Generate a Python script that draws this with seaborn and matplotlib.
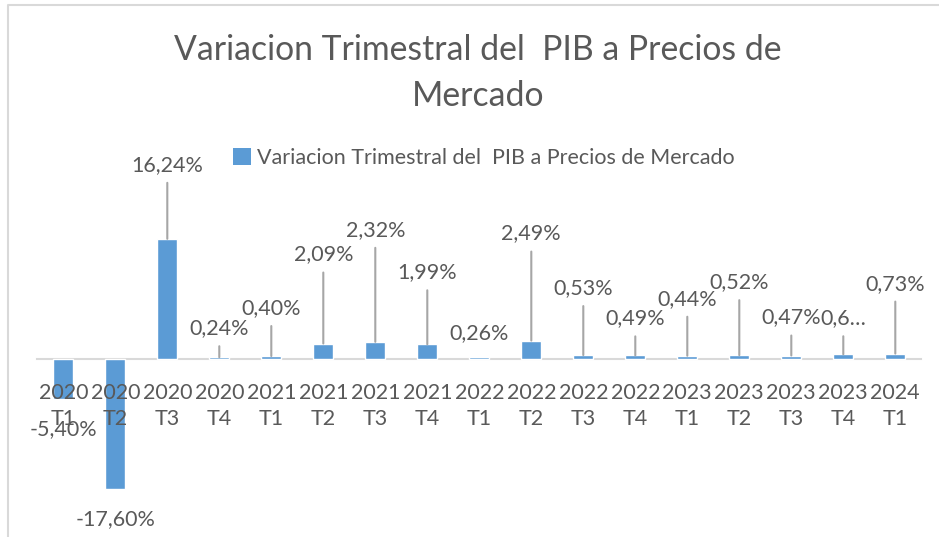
import matplotlib
matplotlib.use('Agg')
import matplotlib.pyplot as plt
from matplotlib.patches import Patch
from matplotlib.lines import Line2D
import seaborn as sns

# Quarters and quarterly GDP change (%)
quarters = ['2020\nT1', '2020\nT2', '2020\nT3', '2020\nT4',
            '2021\nT1', '2021\nT2', '2021\nT3', '2021\nT4',
            '2022\nT1', '2022\nT2', '2022\nT3', '2022\nT4',
            '2023\nT1', '2023\nT2', '2023\nT3', '2023\nT4',
            '2024\nT1']
variation = [-5.40, -17.60, 16.24, 0.24, 0.40, 2.09, 2.32, 1.99,
             0.26, 2.49, 0.53, 0.49, 0.44, 0.52, 0.47, 0.64, 0.73]
labels = ['-5,40%', '-17,60%', '16,24%', '0,24%', '0,40%', '2,09%', '2,32%',
          '1,99%', '0,26%', '2,49%', '0,53%', '0,49%', '0,44%', '0,52%',
          '0,47%', '0,6…', '0,73%']
series_name = 'Variacion Trimestral del  PIB a Precios de Mercado'
title = 'Variacion Trimestral del  PIB a Precios de\nMercado'

# Distance (pixels) of each data label from the end of its bar, as placed in the original
label_gap = [30, 30, 74, 29, 48, 89, 112, 72, 24, 107, 67, 37, 57, 73, 38, 36, 70]

bar_color = '#5B9BD5'
text_color = '#595959'
font = 'Lato'

sns.set_style('white')
plt.rcParams['font.family'] = [font, 'DejaVu Sans']

fig = plt.figure(figsize=(9.39, 5.37), dpi=100)
ax = fig.add_axes([37.3 / 939, 1 - 507 / 537, 884 / 939, 296 / 537])

sns.barplot(x=quarters, y=variation, color=bar_color, saturation=1,
            width=0.385, ax=ax)
ax.set_xlim(-0.5, 16.5)
ax.set_ylim(-20, 20)
ax.set_axisbelow(False)  # category labels are drawn over the negative bars
for side in ['top', 'left', 'right']:
    ax.spines[side].set_visible(False)
# category axis sits at zero, labels just under it
ax.spines['bottom'].set_position(('data', 0))
ax.spines['bottom'].set_color('#D9D9D9')
ax.spines['bottom'].set_linewidth(1.5)
ax.spines['bottom'].set_zorder(0.5)
ax.set_yticks([])
ax.tick_params(axis='x', length=0, pad=17, labelsize=15.5, labelcolor=text_color)
for t in ax.get_xticklabels():
    t.set_linespacing(1.42)

# Data labels with leader lines
for i, (v, lab, gap) in enumerate(zip(variation, labels, label_gap)):
    sign = 1 if v >= 0 else -1
    ax.annotate(lab, xy=(i, v), xytext=(0, sign * gap), textcoords='offset pixels',
                ha='center', va='center', fontsize=15.5, color=text_color,
                annotation_clip=False, zorder=4)
    if v >= 0 and gap > 26:
        ax.annotate('', xy=(i, v), xytext=(0, gap - 18), textcoords='offset pixels',
                    arrowprops=dict(arrowstyle='-', color='#A6A6A6', lw=1.5,
                                    shrinkA=0, shrinkB=0),
                    annotation_clip=False)

# Title and legend
fig.text(478 / 939, 1 - 73 / 537, title, ha='center', va='center',
         fontsize=24.3, color=text_color, linespacing=1.5)
handle = Patch(facecolor=bar_color, edgecolor='none')
fig.legend([handle], [series_name], loc='center', frameon=False,
           bbox_to_anchor=(484 / 939, 1 - 158 / 537), fontsize=15.5,
           labelcolor=text_color, handlelength=0.8, handleheight=0.8,
           handletextpad=0.3)

# Chart area border (top and left edges visible)
fig.add_artist(Line2D([8 / 939, 8 / 939, 1], [0, 1 - 5 / 537, 1 - 5 / 537],
                      transform=fig.transFigure, color='#D9D9D9', lw=1.5))

fig.savefig('out.png', dpi=100)
